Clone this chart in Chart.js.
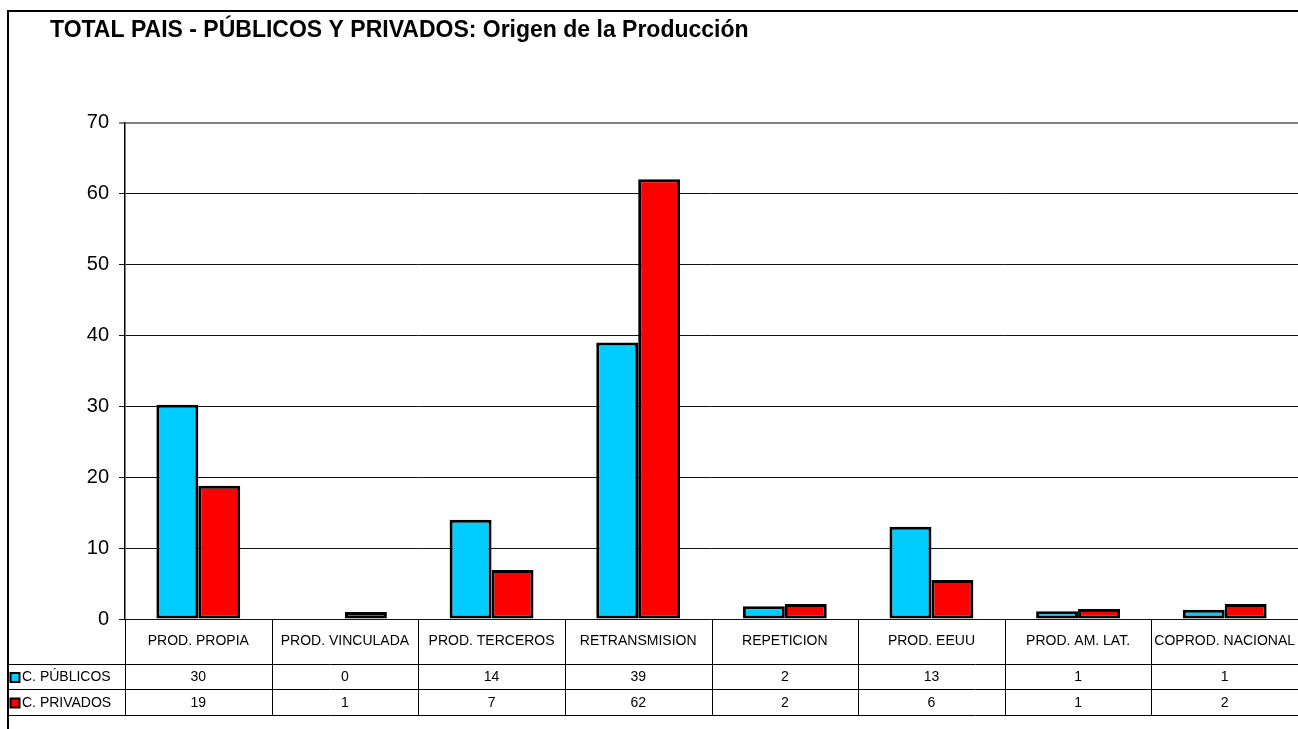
<!DOCTYPE html>
<html>

<head>
    <meta charset="utf-8">
    <title>Origen de la Producción</title>
    <script src="https://cdn.jsdelivr.net/npm/chart.js"></script>
    <style>
        body { margin: 0; background: #ffffff; }
    </style>
</head>

<body>
    <canvas id="myChart" width="1298" height="729"></canvas>

    <script>
        // datos
        var categorias = ['PROD. PROPIA', 'PROD. VINCULADA', 'PROD. TERCEROS', 'RETRANSMISION',
            'REPETICION', 'PROD. EEUU', 'PROD. AM. LAT.', 'COPROD. NACIONAL'];
        var publicos = [30.2, 0, 14, 39, 1.8, 13, 1.1, 1.3];
        var privados = [18.8, 1.0, 6.9, 62, 2.1, 5.5, 1.4, 2.1];
        var nombresSeries = ['C. PÚBLICOS', 'C. PRIVADOS'];
        var ejeYMin = 0;
        var ejeYMax = 70;
        var ejeYPaso = 10;

        var colorPublicos = '#00CCFF';
        var colorPrivados = '#FF0000';
        var fuente = "'Liberation Sans', Arial, sans-serif";

        Chart.defaults.font.family = fuente;
        Chart.defaults.color = '#000';

        // fondo, marco y tabla de datos bajo el grafico
        var tablaPlugin = {
            id: 'tabla',
            beforeDraw: function (chart) {
                var ctx = chart.ctx;
                ctx.save();
                ctx.fillStyle = '#ffffff';
                ctx.fillRect(0, 0, chart.width, chart.height);
                ctx.restore();
            },
            afterDraw: function (chart) {
                var ctx = chart.ctx;
                var area = chart.chartArea;
                var x = chart.scales.x;
                var medio = (area.right - area.left) / categorias.length / 2;
                var filas = [
                    { nombre: nombresSeries[0], color: colorPublicos, datos: publicos },
                    { nombre: nombresSeries[1], color: colorPrivados, datos: privados }
                ];
                var yCab = area.bottom;
                var yFilas = [664, 689, 715];

                ctx.save();
                ctx.strokeStyle = '#000';

                // marco exterior
                ctx.lineWidth = 2;
                ctx.beginPath();
                ctx.moveTo(7, 11);
                ctx.lineTo(chart.width, 11);
                ctx.moveTo(8, 11);
                ctx.lineTo(8, chart.height);
                ctx.stroke();

                // lineas horizontales de la tabla
                ctx.lineWidth = 1;
                ctx.beginPath();
                yFilas.forEach(function (y) {
                    ctx.moveTo(8, y + 0.5);
                    ctx.lineTo(chart.width, y + 0.5);
                });
                // columna de la leyenda
                ctx.moveTo(Math.round(area.left) + 0.5, yCab);
                ctx.lineTo(Math.round(area.left) + 0.5, yFilas[2]);
                // separadores de categorias
                for (var i = 0; i < categorias.length; i++) {
                    var borde = Math.round(x.getPixelForValue(i) + medio) + 0.5;
                    ctx.moveTo(borde, yCab);
                    ctx.lineTo(borde, yFilas[2]);
                }
                ctx.stroke();

                // textos
                ctx.font = '14px ' + fuente;
                ctx.textBaseline = 'middle';
                filas.forEach(function (fila, f) {
                    var yc = (yFilas[f] + yFilas[f + 1]) / 2 + 1;
                    // clave de la leyenda
                    ctx.fillStyle = fila.color;
                    ctx.fillRect(11, yc - 4, 8, 8);
                    ctx.lineWidth = 2;
                    ctx.strokeRect(10.5, yc - 4.5, 9, 9);
                    ctx.fillStyle = '#000';
                    ctx.textAlign = 'left';
                    ctx.fillText(fila.nombre, 22, yc);
                    ctx.textAlign = 'center';
                    fila.datos.forEach(function (v, i) {
                        ctx.fillText(String(Math.round(v)), x.getPixelForValue(i), yc);
                    });
                });
                ctx.restore();
            }
        };

        var ctx = document.getElementById('myChart').getContext('2d');
        var myChart = new Chart(ctx, {
            type: 'bar',
            data: {
                labels: categorias,
                datasets: [{
                    label: nombresSeries[0],
                    data: publicos,
                    backgroundColor: colorPublicos,
                    borderColor: '#000',
                    borderWidth: 3,
                    borderSkipped: false
                }, {
                    label: nombresSeries[1],
                    data: privados,
                    backgroundColor: colorPrivados,
                    borderColor: '#000',
                    borderWidth: 3,
                    borderSkipped: false
                }]
            },
            options: {
                responsive: false,
                animation: false,
                categoryPercentage: 0.572,
                barPercentage: 1,
                layout: {
                    padding: { left: 50, right: -3, top: 0, bottom: 0 }
                },
                plugins: {
                    legend: { display: false },
                    tooltip: { enabled: false },
                    title: {
                        display: true,
                        text: 'TOTAL PAIS - PÚBLICOS Y PRIVADOS: Origen de la Producción',
                        align: 'start',
                        color: '#000',
                        font: { size: 23, weight: 'bold' },
                        padding: { top: 17, bottom: 78 }
                    }
                },
                scales: {
                    x: {
                        grid: { display: false, drawTicks: false },
                        border: { display: false },
                        ticks: {
                            autoSkip: false,
                            maxRotation: 0,
                            minRotation: 0,
                            padding: 14,
                            font: { size: 14 },
                            color: '#000'
                        },
                        afterFit: function (scale) {
                            scale.height = 110;
                            scale.paddingLeft = 0;
                            scale.paddingRight = 0;
                        }
                    },
                    y: {
                        min: ejeYMin,
                        max: ejeYMax,
                        ticks: {
                            stepSize: ejeYPaso,
                            padding: 10,
                            font: { size: 20 },
                            color: '#000'
                        },
                        grid: {
                            color: function (c) { return c.tick && c.tick.value === ejeYMax ? '#808080' : '#111'; },
                            lineWidth: function (c) { return c.tick && c.tick.value === ejeYMax ? 2 : 1; },
                            tickLength: 6
                        },
                        border: { display: true, color: '#000', width: 1.5 },
                        afterFit: function (scale) { scale.width = 75; }
                    }
                }
            },
            plugins: [tablaPlugin]
        });
    </script>
</body>

</html>
